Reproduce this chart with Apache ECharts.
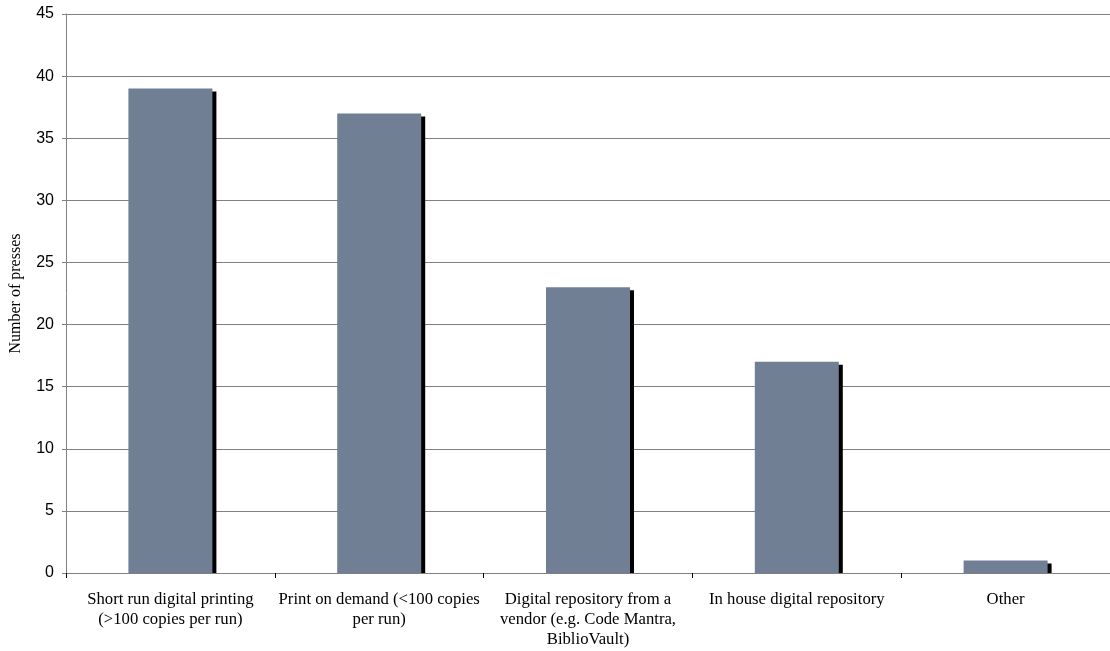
<!DOCTYPE html>
<html><head><meta charset="utf-8">
<script src="https://cdn.jsdelivr.net/npm/echarts@6/dist/echarts.min.js"></script>
<style>html,body{margin:0;padding:0;background:#fff}#c{width:1110px;height:651px}</style>
</head><body><div id="c"></div>
<script>
const categories = [
  "Short run digital printing\n(>100 copies per run)",
  "Print on demand (<100 copies\nper run)",
  "Digital repository from a\nvendor (e.g. Code Mantra,\nBiblioVault)",
  "In house digital repository",
  "Other"
];
const values = [39, 37, 23, 17, 1];
const yAxisName = "Number of presses";

const chart = echarts.init(document.getElementById('c'), null, {renderer: 'canvas'});
chart.setOption({
  animation: false,
  grid: {left: 66, right: 0, top: 14, bottom: 78, containLabel: false, outerBoundsMode: 'none'},
  graphic: [{
    type: 'rect', z: 5, silent: true,
    shape: {x: 67, y: 574, width: 1043, height: 4},
    style: {fill: '#fff'}
  }],
  xAxis: {
    type: 'category',
    data: categories,
    z: 10,
    axisLine: {lineStyle: {color: '#808080', width: 1}},
    axisTick: {show: true, alignWithLabel: false, length: 5, lineStyle: {color: '#000'}},
    axisLabel: {color: '#000', fontFamily: 'Liberation Serif', fontSize: 16.7, lineHeight: 20, margin: 17, interval: 0}
  },
  yAxis: {
    type: 'value', min: 0, max: 45, interval: 5,
    name: yAxisName, nameLocation: 'middle', nameGap: 42,
    nameTextStyle: {color: '#000', fontFamily: 'Liberation Serif', fontSize: 16},
    axisLine: {show: true, lineStyle: {color: '#808080'}},
    axisTick: {show: true, length: 4, lineStyle: {color: '#808080'}},
    axisLabel: {color: '#000', fontFamily: 'Liberation Sans', fontSize: 16, margin: 12},
    splitLine: {lineStyle: {color: '#808080', width: 1}}
  },
  series: [{
    type: 'bar',
    data: values,
    barWidth: 84,
    itemStyle: {color: '#717f94', shadowColor: '#000', shadowOffsetX: 4, shadowOffsetY: 3, shadowBlur: 0}
  }]
});
</script></body></html>
